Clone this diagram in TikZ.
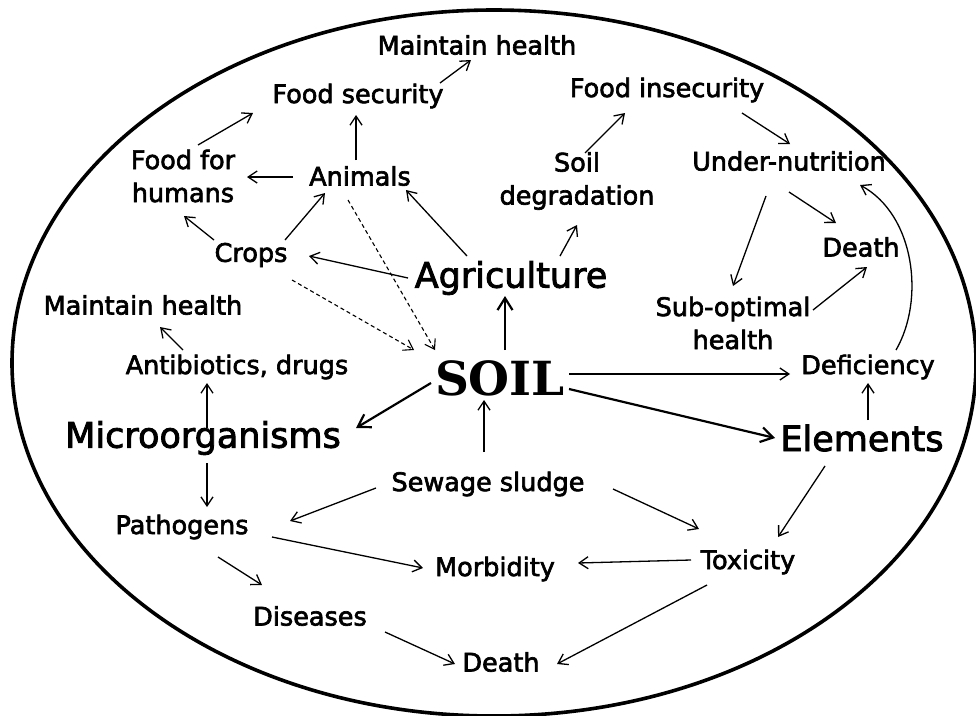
\documentclass[tikz,border=0pt]{standalone}
\usepackage{fontspec}
\setmainfont{DejaVu Sans}[BoldFont={DejaVu Sans}, BoldFeatures={FakeBold=2.5}]
\newfontfamily\soilfont{DejaVu Serif}
\usetikzlibrary{arrows.meta}
\tikzset{
  lbl/.style={font=\bfseries\fontsize{25.5}{33}\selectfont, inner sep=0pt, align=center},
  big/.style={font=\bfseries\fontsize{35}{40}\selectfont, inner sep=0pt},
  soilstyle/.style={font=\soilfont\bfseries\fontsize{47}{50}\selectfont, inner sep=0pt},
  arr/.style={-{Straight Barb[length=9pt,width=12pt]}, line width=1.3pt},
  tarr/.style={-{Straight Barb[length=12pt,width=15pt]}, line width=2.2pt},
  darr/.style={-{Straight Barb[length=9pt,width=12pt]}, line width=1.1pt, dash pattern=on 4pt off 3pt},
  rim/.style={line width=3.6pt}
}
\begin{document}
\begin{tikzpicture}[x=1pt,y=-1pt]
\useasboundingbox (0,0) rectangle (976,715);
\draw[rim] (494,363) ellipse [x radius=482, y radius=353];

\node[lbl] (mhT) at (477,45) {Maintain health};
\node[lbl] (fs) at (358,96) {Food security};
\node[lbl] (fi) at (667,90) {Food insecurity};
\node[lbl] (ffh) at (183,176) {Food for\\humans};
\node[lbl] (ani) at (360,176) {Animals};
\node[lbl] (sd) at (577,181) {Soil\\degradation};
\node[lbl] (un) at (789,161) {Under-nutrition};
\node[lbl] (crops) at (251,255) {Crops};
\node[big] (agri) at (511,278) {Agriculture};
\node[lbl] (deathR) at (861,247) {Death};
\node[lbl] (mhL) at (143,305) {Maintain health};
\node[lbl] (sub) at (733,323) {Sub-optimal\\health};
\node[lbl] (anti) at (237,367) {Antibiotics, drugs};
\node[soilstyle] (soil) at (500,378) {SOIL};
\node[lbl] (def) at (868,367) {Deficiency};
\node[big] (micro) at (203,438) {Microorganisms};
\node[big] (elem) at (862,438) {Elements};
\node[lbl] (sew) at (488,484) {Sewage sludge};
\node[lbl] (path) at (182,527) {Pathogens};
\node[lbl] (tox) at (748,562) {Toxicity};
\node[lbl] (morb) at (495,569) {Morbidity};
\node[lbl] (dis) at (310,616) {Diseases};
\node[lbl] (deathB) at (501,662) {Death};

\draw[arr] ([shift={(82,-13)}]fs.center) -- ([shift={(-6,15)}]mhT.center);
\draw[arr] ([shift={(15,-31)}]ffh.center) -- ([shift={(-105,17)}]fs.center);
\draw[arr] ([shift={(-4,-16)}]ani.center) -- ([shift={(-2,19)}]fs.center);
\draw[arr] ([shift={(-67,1)}]ani.center) -- ([shift={(64,1)}]ffh.center);
\draw[arr] ([shift={(34,-15)}]crops.center) -- ([shift={(-35,17)}]ani.center);
\draw[arr] ([shift={(-37,-15)}]crops.center) -- ([shift={(1,40)}]ffh.center);
\draw[arr] ([shift={(-44,-22)}]agri.center) -- ([shift={(46,14)}]ani.center);
\draw[arr] ([shift={(-103,0)}]agri.center) -- ([shift={(58,1)}]crops.center);
\draw[arr] ([shift={(49,-22)}]agri.center) -- ([shift={(0,44)}]sd.center);
\draw[arr] ([shift={(8,-28)}]sd.center) -- ([shift={(-42,23)}]fi.center);
\draw[arr] ([shift={(75,23)}]fi.center) -- ([shift={(1,-17)}]un.center);
\draw[arr] ([shift={(-23,35)}]un.center) -- ([shift={(0,-37)}]sub.center);
\draw[arr] ([shift={(0,31)}]un.center) -- ([shift={(-25,-24)}]deathR.center);
\draw[arr] ([shift={(80,-13)}]sub.center) -- ([shift={(6,20)}]deathR.center);
\draw[arr] ([shift={(28,-17)}]def.center) .. controls ([shift={(57,-67)}]def.center) and ([shift={(126,54)}]un.center) .. ([shift={(71,24)}]un.center);
\draw[tarr] ([shift={(5,-28)}]soil.center) -- ([shift={(-6,18)}]agri.center);
\draw[darr] ([shift={(41,25)}]crops.center) -- ([shift={(-86,-28)}]soil.center);
\draw[darr] ([shift={(-12,24)}]ani.center) -- ([shift={(-65,-28)}]soil.center);
\draw[arr] ([shift={(-54,-17)}]anti.center) -- ([shift={(17,22)}]mhL.center);
\draw[arr] ([shift={(4,-10)}]micro.center) -- ([shift={(-30,16)}]anti.center);
\draw[arr] ([shift={(4,25)}]micro.center) -- ([shift={(25,-20)}]path.center);
\draw[tarr] ([shift={(-69,5)}]soil.center) -- ([shift={(153,-10)}]micro.center);
\draw[arr] ([shift={(69,-4)}]soil.center) -- ([shift={(-78,7)}]def.center);
\draw[tarr] ([shift={(69,11)}]soil.center) -- ([shift={(-87,0)}]elem.center);
\draw[arr] ([shift={(6,-18)}]elem.center) -- ([shift={(0,16)}]def.center);
\draw[arr] ([shift={(-4,-32)}]sew.center) -- ([shift={(-16,22)}]soil.center);
\draw[arr] ([shift={(-112,4)}]sew.center) -- ([shift={(108,-6)}]path.center);
\draw[arr] ([shift={(125,5)}]sew.center) -- ([shift={(-49,-33)}]tox.center);
\draw[arr] ([shift={(-37,28)}]elem.center) -- ([shift={(30,-25)}]tox.center);
\draw[arr] ([shift={(-57,-2)}]tox.center) -- ([shift={(83,-6)}]morb.center);
\draw[arr] ([shift={(-41,23)}]tox.center) -- ([shift={(56,2)}]deathB.center);
\draw[arr] ([shift={(90,10)}]path.center) -- ([shift={(-72,-1)}]morb.center);
\draw[arr] ([shift={(36,30)}]path.center) -- ([shift={(-48,-31)}]dis.center);
\draw[arr] ([shift={(75,16)}]dis.center) -- ([shift={(-46,2)}]deathB.center);
\end{tikzpicture}
\end{document}
